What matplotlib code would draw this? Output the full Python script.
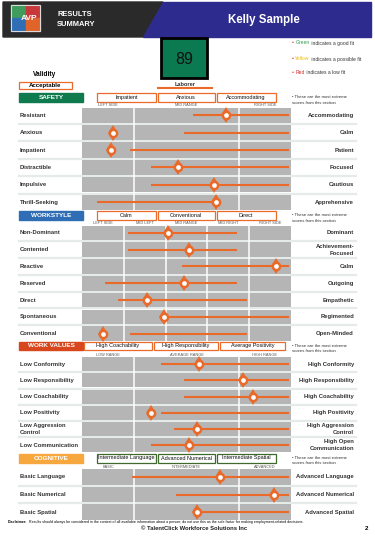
import numpy as np
import matplotlib
matplotlib.use('Agg')
import matplotlib.pyplot as plt
from matplotlib.patches import Rectangle, Polygon
from matplotlib import transforms

plt.rcParams['font.family'] = ['Liberation Sans', 'DejaVu Sans']

# ---- data ----
fit_score = 89
job_title = 'Laborer'
validity = 'Acceptable'

safety_left = ['Resistant', 'Anxious', 'Impatient', 'Distractible', 'Impulsive', 'Thrill-Seeking']
safety_right = ['Accommodating', 'Calm', 'Patient', 'Focused', 'Cautious', 'Apprehensive']
safety_lo = [53, 49, 23, 33, 33, 7]
safety_hi = [99, 99, 99, 99, 99, 64]
safety_score = [69, 15, 14, 46, 63, 64]
safety_cols = ['LEFT SIDE', 'MID RANGE', 'RIGHT SIDE']
safety_top = ['Impatient', 'Anxious', 'Accommodating']

work_left = ['Non-Dominant', 'Contented', 'Reactive', 'Reserved', 'Direct', 'Spontaneous', 'Conventional']
work_right = ['Dominant', 'Achievement-\nFocused', 'Calm', 'Outgoing', 'Empathetic', 'Regimented', 'Open-Minded']
work_lo = [22, 22, 48, 11, 17, 39, 23]
work_hi = [74, 74, 99, 74, 79, 99, 79]
work_score = [41, 51, 93, 49, 31, 39, 10]
work_cols = ['LEFT SIDE', 'MID LEFT', 'MID RANGE', 'MID RIGHT', 'RIGHT SIDE']
work_top = ['Calm', 'Conventional', 'Direct']

values_left = ['Low Conformity', 'Low Responsibility', 'Low Coachability', 'Low Positivity',
               'Low Aggression\nControl', 'Low Communication']
values_right = ['High Conformity', 'High Responsibility', 'High Coachability', 'High Positivity',
                'High Aggression\nControl', 'High Open\nCommunication']
values_lo = [38, 49, 49, 38, 44, 33]
values_hi = [99, 99, 99, 99, 99, 99]
values_score = [56, 77, 82, 33, 55, 51]
values_cols = ['LOW RANGE', 'AVERAGE RANGE', 'HIGH RANGE']
values_top = ['High Coachability', 'High Responsibility', 'Average Positivity']

cog_left = ['Basic Language', 'Basic Numerical', 'Basic Spatial']
cog_right = ['Advanced Language', 'Advanced Numerical', 'Advanced Spatial']
cog_lo = [24, 45, 55]
cog_hi = [99, 99, 99]
cog_score = [66, 92, 55]
cog_cols = ['BASIC', 'INTERMEDIATE', 'ADVANCED']
cog_top = ['Intermediate Language', 'Advanced Numerical', 'Intermediate Spatial']

# ---- styling ----
W, H = 375, 537
ORANGE = '#ea6a2a'
GRAY = '#b5b5b5'
SEP = '#e5ebe9'
TXT = '#333333'

fig = plt.figure(figsize=(W / 100, H / 100), dpi=100)
bg = fig.add_axes([0, 0, 1, 1])
bg.set_xlim(0, W)
bg.set_ylim(H, 0)
bg.axis('off')

# header band
bg.add_patch(Polygon([(3, 2), (163, 2), (143, 37), (3, 37)], color='#2a2a2a'))
bg.add_patch(Polygon([(163, 2), (371, 2), (371, 37), (143, 37)], color='#2e2b8f'))
bg.add_patch(Rectangle((11, 5), 14.5, 13, color='#3f9c5c'))
bg.add_patch(Rectangle((25.5, 5), 14.5, 13, color='#c8383b'))
bg.add_patch(Rectangle((11, 18), 14.5, 13, color='#2f6db5'))
bg.add_patch(Rectangle((25.5, 18), 14.5, 13, color='#e0632a'))
bg.add_patch(Rectangle((11, 5), 29, 26, fill=False, ec='#d9d9d9', lw=0.8))
bg.text(29, 19, 'AVP', color='white', fontsize=6, fontweight='bold', ha='center', va='center')
bg.text(57, 14, 'RESULTS', color='white', fontsize=5.4, fontweight='bold', va='center')
bg.text(57, 24, 'SUMMARY', color='white', fontsize=5.4, fontweight='bold', va='center')
bg.text(264, 20, 'Kelly Sample', color='white', fontsize=8.3, fontweight='bold', ha='center', va='center')

# score box
bg.add_patch(Rectangle((161, 38), 46, 40, fc='#0b7a50', ec='black', lw=2))
bg.text(184, 59, str(fit_score), fontsize=11.5, ha='center', va='center', color='#111111')
bg.text(185, 84, job_title, fontsize=4.1, fontweight='bold', ha='center', va='center', color=TXT)
bg.plot([158, 212], [88, 88], color=ORANGE, lw=1.5)

# validity
bg.text(44.5, 75, 'Validity', fontsize=4.7, fontweight='bold', ha='center', va='center')
bg.add_patch(Rectangle((18.5, 81.5), 53, 7.5, fill=False, ec=ORANGE, lw=0.9))
bg.text(45, 85.5, validity, fontsize=4.4, fontweight='bold', ha='center', va='center')

# legend on the right
for y, word, col, rest in [(43, 'Green', '#2e9a4e', ' indicates a good fit'),
                           (59, 'Yellow', '#e8c21a', ' indicates a possible fit'),
                           (73, 'Red', '#d62b2b', ' indicates a low fit')]:
    t0 = bg.text(292, y, '\u2022 ', fontsize=3.6, color='#d62b2b', va='center')
    t1 = bg.annotate(word, xy=(1, 0), xycoords=t0, fontsize=3.6, color=col, va='bottom')
    bg.annotate(rest, xy=(1, 0), xycoords=t1, fontsize=3.6, color=TXT, va='bottom')


def section(top, bottom, left, right, lo, hi, score, bounds, cols,
            hdr_y, hdr_name, hdr_color, boxes, box_x, box_color):
    n = len(left)
    pitch = (bottom - top) / n
    # row separators
    for k in range(1, n):
        bg.plot([19, 356], [top + k * pitch] * 2, color=SEP, lw=1.6, zorder=0)

    ax = fig.add_axes([82 / W, 1 - bottom / H, (291 - 82) / W, (bottom - top) / H])
    ax.set_facecolor('none')
    ax.set_xlim(0, 100)
    ax.set_ylim(n - 0.5, -0.5)
    ax.axis('off')
    rows = np.arange(n)
    ax.barh(rows, 100, height=0.87, color=GRAY, zorder=1)
    ax.vlines(bounds[1:-1], -0.5, n - 0.5, color='white', lw=1.1, zorder=2)
    ax.hlines(rows, lo, hi, color=ORANGE, lw=1.5, zorder=3)
    ax.plot(score, rows, ls='none', marker='d', ms=8.2, color=ORANGE, mew=0, zorder=4)
    ax.plot(score, rows, ls='none', marker='o', ms=7, color=ORANGE, mew=0, zorder=5)
    ax.plot(score, rows, ls='none', marker='o', ms=3.4, color='white', mew=0, zorder=6)

    centers = [(a + b) / 2 for a, b in zip(bounds[:-1], bounds[1:])]
    for c, lab in zip(centers, cols):
        ax.text(c, -0.46, lab, fontsize=2.8, color='#555555', ha='center', va='bottom',
                clip_on=False)

    tr = transforms.blended_transform_factory(fig.transFigure, ax.transData)
    for i in range(n):
        ax.text(20 / W, i, left[i], transform=tr, fontsize=4.2, fontweight='bold',
                color=TXT, ha='left', va='center', linespacing=1.5)
        ax.text(354 / W, i, right[i], transform=tr, fontsize=4.2, fontweight='bold',
                color=TXT, ha='right', va='center', linespacing=1.5)

    # section header + most extreme boxes
    y0, y1 = hdr_y
    bg.add_patch(Rectangle((19, y0), 64, y1 - y0, color=hdr_color))
    bg.text(51, (y0 + y1) / 2, hdr_name, color='white', fontsize=4.6,
            fontweight='bold', ha='center', va='center')
    for (x0, x1), lab in zip(box_x, boxes):
        bg.add_patch(Rectangle((x0, y0), x1 - x0, y1 - y0, fill=False, ec=box_color, lw=0.9))
        bg.text((x0 + x1) / 2, (y0 + y1) / 2, lab, fontsize=4.0, ha='center', va='center',
                color='#111111')
    bg.text(292, (y0 + y1) / 2, '\u2022 These are the most extreme', fontsize=3.1,
            color=TXT, va='center')
    bg.text(292, (y0 + y1) / 2 + 5, 'scores from this section', fontsize=3.1,
            color=TXT, va='center')


BOXES_A = [(97, 155.5), (158, 214.5), (216.5, 275.5)]
BOXES_B = [(84, 152), (153.5, 218), (220, 285)]

section(106.5, 211, safety_left, safety_right, safety_lo, safety_hi, safety_score,
        [0, 25, 75, 100], safety_cols, (93, 102), 'SAFETY', '#0e7a4d',
        safety_top, BOXES_A, ORANGE)
section(224.5, 342, work_left, work_right, work_lo, work_hi, work_score,
        [0, 20, 40, 60, 80, 100], work_cols, (211, 220), 'WORKSTYLE', '#2f6db5',
        work_top, BOXES_A, ORANGE)
section(356, 453.5, values_left, values_right, values_lo, values_hi, values_score,
        [0, 25, 75, 100], values_cols, (341.5, 350), 'WORK VALUES', '#d8461e',
        values_top, BOXES_B, ORANGE)
section(468, 521, cog_left, cog_right, cog_lo, cog_hi, cog_score,
        [0, 25, 75, 100], cog_cols, (453.5, 462.5), 'COGNITIVE', '#f6a73e',
        cog_top, BOXES_A, '#3e6a2e')

# footer
t = bg.text(8, 522, 'Disclaimer:', fontsize=2.6, fontweight='bold', va='center')
bg.annotate(' Results should always be considered in the context of all available information '
            'about a person; do not use this as the sole factor for making employment-related decisions.',
            xy=(1, 0), xycoords=t, fontsize=2.6, va='bottom')
bg.text(194, 528, '\u00a9 TalentClick Workforce Solutions Inc', fontsize=4.2, fontweight='bold',
        ha='center', va='center', color='#222222')
bg.text(367, 528, '2', fontsize=4.5, fontweight='bold', ha='center', va='center')

fig.savefig('out.png', dpi=100)
